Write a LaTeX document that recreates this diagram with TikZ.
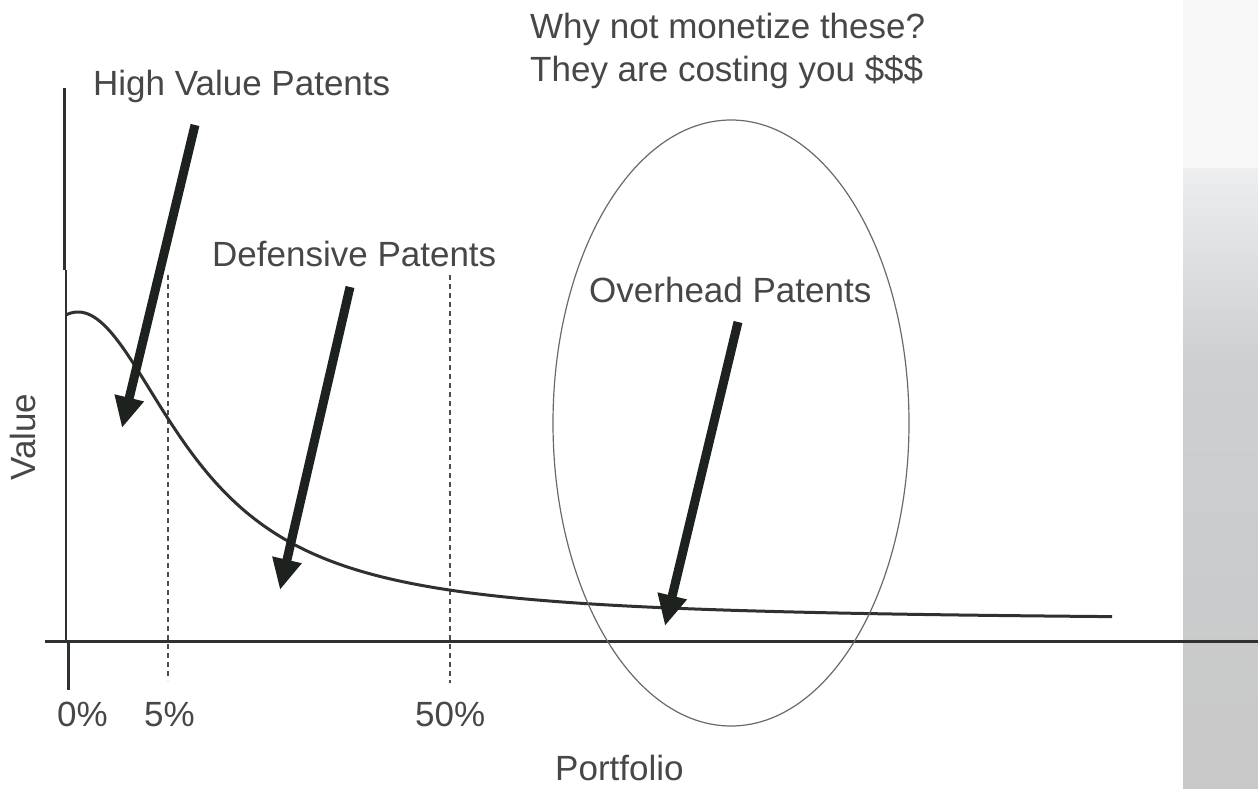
\documentclass[tikz,border=0pt]{standalone}
\usepackage{fontspec}
\setmainfont{Liberation Sans}
\usetikzlibrary{arrows.meta,shapes.geometric}
\definecolor{ink}{HTML}{1E221E}
\definecolor{axisc}{HTML}{2E322E}
\definecolor{txt}{HTML}{474747}
\definecolor{ellc}{HTML}{6A6A6A}
\definecolor{panelA}{HTML}{ECEEF0}
\definecolor{panelB}{HTML}{CDCFD1}
\definecolor{panelC}{HTML}{C8C8C8}
\definecolor{panelTop}{HTML}{F8F8F8}
\begin{document}
\begin{tikzpicture}[x=1pt,y=-1pt,
  lbl/.style={text=txt, font=\fontsize{35}{42}\selectfont, inner sep=0pt},
  bigarrow/.style={draw=ink, line width=9pt, -{Triangle[length=31pt,width=28pt]}},
  axisline/.style={draw=axisc, line width=3pt},
  thinaxis/.style={draw=axisc, line width=1.6pt},
  guide/.style={draw=black!70, line width=1.1pt, dash pattern=on 5pt off 4pt},
  valcurve/.style={draw=axisc, line width=3pt},
  ring/.style={draw=ellc, line width=1.2pt}]
\useasboundingbox (0,0) rectangle (1258,789);
\fill[white] (0,0) rectangle (1258,789);
% right grey panel
\fill[panelTop] (1183,0) rectangle (1258,168);
\shade[top color=panelA, bottom color=panelB] (1183,168) rectangle (1258,360);
\shade[top color=panelB, bottom color=panelC] (1183,360) rectangle (1258,789);
% guides
\coordinate (g5t) at (168,275); \coordinate (g5b) at (168,680);
\coordinate (g50t) at (450,275); \coordinate (g50b) at (450,683);
\draw[guide] (g5t) -- (g5b);
\draw[guide] (g50t) -- (g50b);
% axes
\coordinate (ytop) at (64,88); \coordinate (ybrk) at (64,270);
\coordinate (yin) at (66,270); \coordinate (yorg) at (66,641);
\coordinate (ylo1) at (68,641); \coordinate (ylo2) at (68,690);
\coordinate (xl) at (45,641); \coordinate (xr) at (1258,641);
\draw[axisline] (ytop) -- (ybrk);
\draw[thinaxis] (yin) -- (yorg);
\draw[axisline] (ylo1) -- (ylo2);
\draw[axisline] (xl) -- (xr);
% value curve
\draw[valcurve] plot[domain=66:1112, samples=240, smooth] (\x, {621-309/(1+((\x-78)/124)^2)});
% ellipse
\node[ring, ellipse, minimum width=356pt, minimum height=606pt, inner sep=0pt] (oval) at (731,423) {};
% labels
\node[lbl, anchor=base west] (why) at (530,39) {Why not monetize these?};
\node[lbl, anchor=base west] (they) at (530,82) {They are costing you \$\$\$};
\node[lbl, anchor=base west] (hv) at (93,96) {High Value Patents};
\node[lbl, anchor=base west] (def) at (212,266) {Defensive Patents};
\node[lbl, anchor=base west] (ovh) at (589,302) {Overhead Patents};
\node[lbl, anchor=base, rotate=90] (val) at (35,437) {Value};
\node[lbl, anchor=base west] (p0) at (57,726) {0\%};
\node[lbl, anchor=base west] (p5) at (144,726) {5\%};
\node[lbl, anchor=base west] (p50) at (415,726) {50\%};
\node[lbl, anchor=base west] (port) at (555,780) {Portfolio};
% arrows
\coordinate (a1s) at (195,125); \coordinate (a1e) at (122,428);
\coordinate (a2s) at (350,287); \coordinate (a2e) at (280,590);
\coordinate (a3s) at (738,322); \coordinate (a3e) at (665,626);
\draw[bigarrow] (a1s) -- (a1e);
\draw[bigarrow] (a2s) -- (a2e);
\draw[bigarrow] (a3s) -- (a3e);
\end{tikzpicture}
\end{document}
